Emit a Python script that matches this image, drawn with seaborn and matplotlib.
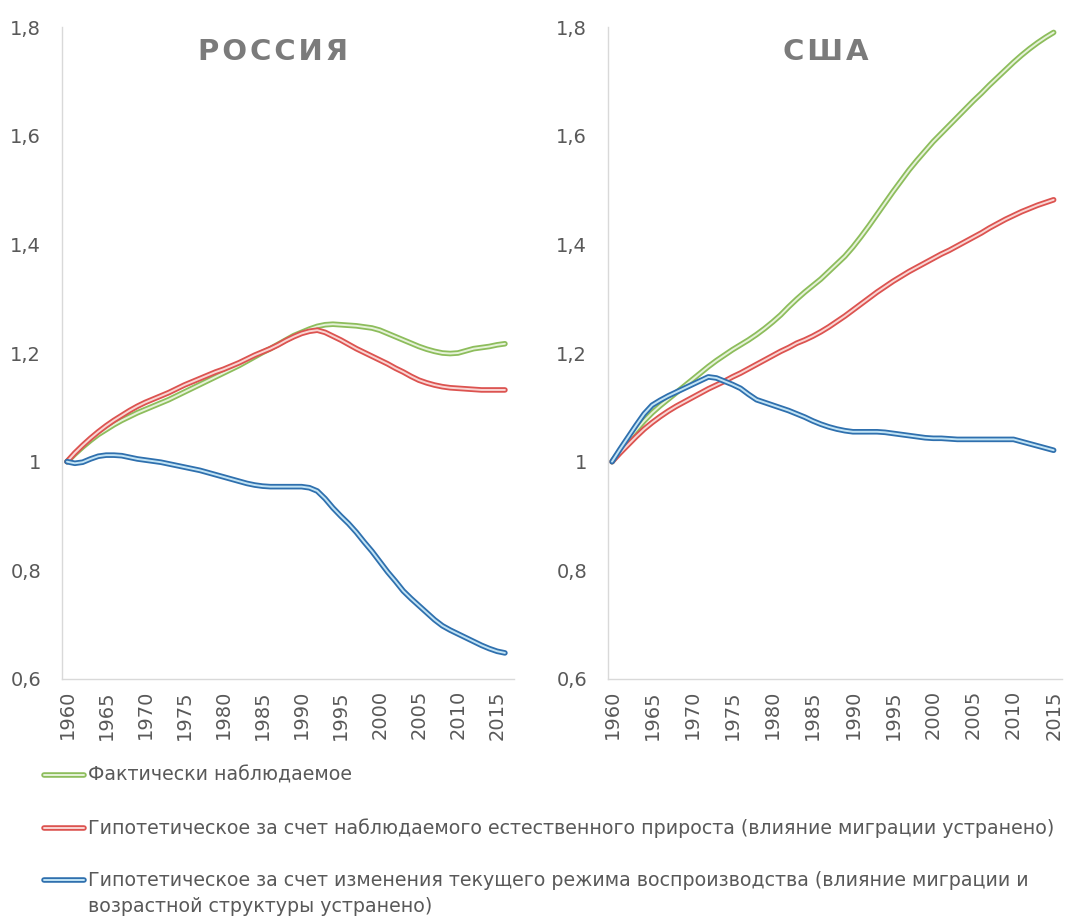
import seaborn as sns
import matplotlib.pyplot as plt
import matplotlib.patheffects as pe
from matplotlib.lines import Line2D
from matplotlib.ticker import FuncFormatter

# годы
years_ru = list(range(1960, 2017))
years_us = list(range(1960, 2016))

# Россия
ru_fact = [1.000, 1.014, 1.027, 1.039, 1.050, 1.059, 1.068, 1.076, 1.083, 1.090,
           1.096, 1.102, 1.108, 1.114, 1.121, 1.128, 1.135, 1.142, 1.149, 1.156,
           1.163, 1.170, 1.177, 1.185, 1.193, 1.201, 1.208, 1.216, 1.224, 1.232,
           1.238, 1.244, 1.249, 1.252, 1.253, 1.252, 1.251, 1.250, 1.248, 1.246,
           1.242, 1.236, 1.230, 1.224, 1.218, 1.212, 1.207, 1.203, 1.200, 1.199,
           1.200, 1.204, 1.208, 1.210, 1.212, 1.215, 1.217]
ru_natural = [1.000, 1.016, 1.030, 1.043, 1.055, 1.066, 1.076, 1.085, 1.094, 1.102,
              1.109, 1.115, 1.121, 1.127, 1.134, 1.141, 1.147, 1.153, 1.159, 1.165,
              1.170, 1.176, 1.182, 1.189, 1.196, 1.202, 1.208, 1.215, 1.223, 1.230,
              1.236, 1.240, 1.242, 1.238, 1.231, 1.224, 1.216, 1.208, 1.201, 1.194,
              1.187, 1.180, 1.172, 1.165, 1.157, 1.150, 1.145, 1.141, 1.138, 1.136,
              1.135, 1.134, 1.133, 1.132, 1.132, 1.132, 1.132]
ru_regime = [1.000, 0.997, 0.999, 1.005, 1.010, 1.012, 1.012, 1.011, 1.008, 1.005,
             1.003, 1.001, 0.999, 0.996, 0.993, 0.990, 0.987, 0.984, 0.980, 0.976,
             0.972, 0.968, 0.964, 0.960, 0.957, 0.955, 0.954, 0.954, 0.954, 0.954,
             0.954, 0.952, 0.946, 0.932, 0.915, 0.900, 0.886, 0.870, 0.852, 0.835,
             0.816, 0.797, 0.780, 0.762, 0.748, 0.735, 0.722, 0.709, 0.698, 0.690,
             0.683, 0.676, 0.669, 0.662, 0.656, 0.651, 0.648]

# США
us_fact = [1.000, 1.020, 1.040, 1.058, 1.075, 1.090, 1.103, 1.115, 1.127, 1.139,
           1.151, 1.163, 1.175, 1.186, 1.196, 1.206, 1.215, 1.224, 1.234, 1.245,
           1.257, 1.270, 1.285, 1.299, 1.312, 1.324, 1.336, 1.350, 1.364, 1.378,
           1.395, 1.414, 1.434, 1.455, 1.476, 1.497, 1.517, 1.537, 1.555, 1.572,
           1.589, 1.604, 1.619, 1.634, 1.649, 1.664, 1.678, 1.693, 1.707, 1.721,
           1.735, 1.748, 1.760, 1.771, 1.781, 1.790]
us_natural = [1.000, 1.016, 1.031, 1.046, 1.060, 1.072, 1.083, 1.093, 1.102, 1.110,
              1.118, 1.126, 1.134, 1.141, 1.148, 1.156, 1.163, 1.171, 1.179, 1.187,
              1.195, 1.203, 1.210, 1.218, 1.224, 1.231, 1.239, 1.248, 1.258, 1.268,
              1.279, 1.290, 1.301, 1.312, 1.322, 1.332, 1.341, 1.350, 1.358, 1.366,
              1.374, 1.382, 1.389, 1.397, 1.405, 1.413, 1.421, 1.430, 1.438, 1.446,
              1.453, 1.460, 1.466, 1.472, 1.477, 1.482]
us_regime = [1.000, 1.023, 1.045, 1.067, 1.088, 1.104, 1.113, 1.121, 1.128, 1.135,
             1.142, 1.149, 1.156, 1.154, 1.148, 1.142, 1.135, 1.124, 1.114, 1.109,
             1.104, 1.099, 1.094, 1.088, 1.082, 1.075, 1.069, 1.064, 1.060, 1.057,
             1.055, 1.055, 1.055, 1.055, 1.054, 1.052, 1.050, 1.048, 1.046, 1.044,
             1.043, 1.043, 1.042, 1.041, 1.041, 1.041, 1.041, 1.041, 1.041, 1.041,
             1.041, 1.037, 1.033, 1.029, 1.025, 1.021]

labels = ["Фактически наблюдаемое",
          "Гипотетическое за счет наблюдаемого естественного прироста (влияние миграции устранено)",
          "Гипотетическое за счет изменения текущего режима воспроизводства (влияние миграции и\n"
          "возрастной структуры устранено)"]
yticks = [0.6, 0.8, 1.0, 1.2, 1.4, 1.6, 1.8]

outer = ["#8dbd5c", "#dc5350", "#2f70ae"]
inner = ["#e6f2d9", "#f9d6d4", "#c2e4f5"]
grey = "#595959"

sns.set_theme(style="white")
plt.rcParams["font.family"] = ["DejaVu Sans"]

W, H = 1067, 923
fig = plt.figure(figsize=(W / 100, H / 100), dpi=100)
ax_ru = fig.add_axes([62 / W, 1 - 679 / H, 452 / W, 652 / H])
ax_us = fig.add_axes([608 / W, 1 - 679 / H, 454 / W, 652 / H])


def double(c_out):
    return [pe.Stroke(linewidth=4.0, foreground=c_out), pe.Normal()]


panels = [
    (ax_ru, years_ru, [ru_fact, ru_natural, ru_regime], (1959.36, 2017.16),
     "Р\u200aО\u200aС\u200aС\u200aИ\u200aЯ", 273),
    (ax_us, years_us, [us_fact, us_natural, us_regime], (1959.5, 2016.04),
     "С\u200aШ\u200aА", 826),
]

for ax, years, series, xlim, title, tx in panels:
    for vals, c_out, c_in in zip(series, outer, inner):
        sns.lineplot(x=years, y=vals, ax=ax, color=c_in, linewidth=1.4,
                     path_effects=double(c_out))
    ax.set_xlim(*xlim)
    ax.set_ylim(0.6, 1.8)
    ax.set_xticks(list(range(1960, 2016, 5)))
    ax.set_yticks(yticks)
    ax.yaxis.set_major_formatter(FuncFormatter(lambda v, p: f"{v:g}".replace(".", ",")))
    ax.tick_params(axis="x", rotation=90, labelsize=14, colors=grey, length=0, pad=8)
    ax.tick_params(axis="y", labelsize=14, colors=grey, length=0, pad=15)
    for s in ["top", "right"]:
        ax.spines[s].set_visible(False)
    for s in ["left", "bottom"]:
        ax.spines[s].set_color("#d9d9d9")
        ax.spines[s].set_linewidth(1)
    ax.set(xlabel="", ylabel="")
    fig.text(tx / W, 1 - 52 / H, title, ha="center", va="center",
             fontsize=21, fontweight="bold", color="#7b7b7b")

# легенда
for lab, c_out, c_in, yy in zip(labels, outer, inner, [775, 828, 880]):
    fy = 1 - yy / H
    fig.add_artist(Line2D([44 / W, 84 / W], [fy, fy], color=c_in, linewidth=1.4,
                          path_effects=double(c_out)))
    for i, line in enumerate(lab.split("\n")):
        fig.text(88 / W, 1 - (yy + 27 * i) / H, line, ha="left", va="center",
                 fontsize=13.7, color=grey)

fig.savefig("out.png", dpi=100, facecolor="white")
